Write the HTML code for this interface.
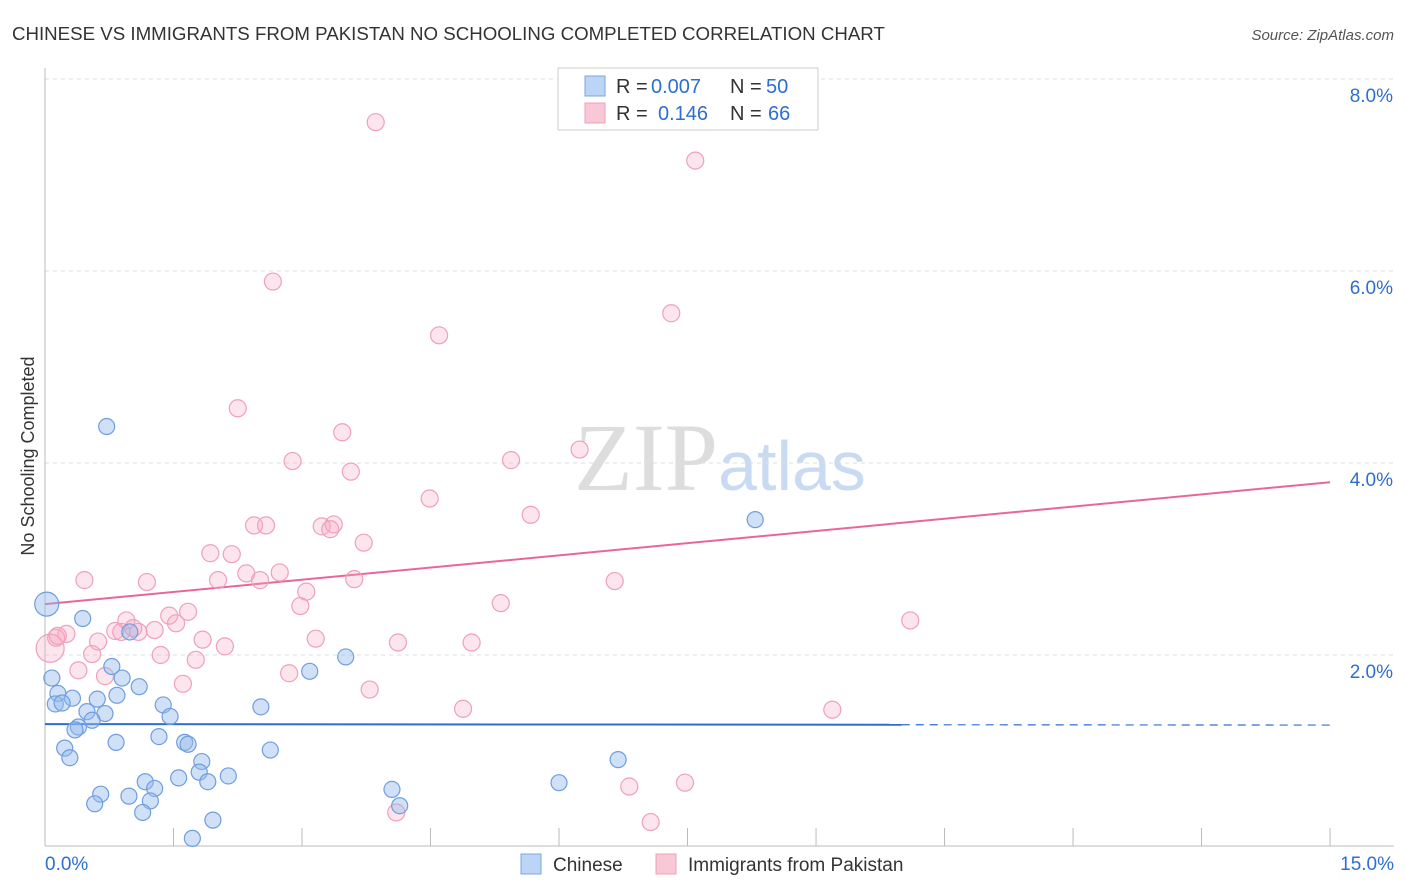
<!DOCTYPE html>
<html><head><meta charset="utf-8"><style>
body{margin:0;background:#fff;font-family:"Liberation Sans",sans-serif;}
</style></head><body>
<svg id="chart" width="1406" height="892" xmlns="http://www.w3.org/2000/svg" style="display:block">
<text x="12" y="40" font-size="18.7" fill="#333">CHINESE VS IMMIGRANTS FROM PAKISTAN NO SCHOOLING COMPLETED CORRELATION CHART</text>
<text x="1394" y="40" font-size="15" fill="#555" text-anchor="end" font-style="italic">Source: ZipAtlas.com</text>
<text x="720" y="490" font-size="96" text-anchor="middle" fill="#ddd" font-family="Liberation Serif">ZIP<tspan fill="#c9dbf2" font-family="Liberation Sans" font-size="70">atlas</tspan></text>
<text transform="translate(34,456) rotate(-90)" font-size="18" fill="#333" text-anchor="middle">No Schooling Completed</text>
<g id="grid"></g><g id="axes"></g><g id="lines"></g><g id="pts"></g>
<g>
<rect x="558" y="68" width="260" height="62" fill="#fff" stroke="#ccc"/>
<rect x="585" y="76" width="20" height="20" fill="#bcd4f5" stroke="#7aa6e0"/>
<rect x="585" y="103" width="20" height="20" fill="#f9c8d6" stroke="#f0a0ba"/>
<text x="616" y="93" font-size="20" fill="#333">R =</text>
<text x="651" y="93" font-size="20" fill="#2d6fd1">0.007</text>
<text x="730" y="93" font-size="20" fill="#333">N =</text>
<text x="766" y="93" font-size="20" fill="#2d6fd1">50</text>
<text x="616" y="120" font-size="20" fill="#333">R =</text>
<text x="658" y="120" font-size="20" fill="#2d6fd1">0.146</text>
<text x="730" y="120" font-size="20" fill="#333">N =</text>
<text x="768" y="120" font-size="20" fill="#2d6fd1">66</text>
</g>
<g>
<rect x="521" y="854" width="20" height="20" fill="#bcd4f5" stroke="#7aa6e0"/>
<text x="553" y="871" font-size="19" fill="#333">Chinese</text>
<rect x="656" y="854" width="20" height="20" fill="#f9c8d6" stroke="#f0a0ba"/>
<text x="688" y="871" font-size="19" fill="#333">Immigrants from Pakistan</text>
</g>
</svg>
<script>
const yTicks=[2,4,6,8];
const yTickLabels=["2.0%","4.0%","6.0%","8.0%"];
const xTickLabels=["0.0%","15.0%"];
const blueX=[.02,.72,8.29,.44,.99,.08,.15,.32,.12,.20,.78,.90,1.10,.61,.84,.49,.70,.55,.39,.35,1.38,1.46,.23,.29,.83,1.33,1.63,1.67,1.83,1.80,1.56,1.90,2.14,2.52,2.63,3.09,3.51,1.17,1.28,.65,.98,.58,1.23,1.14,1.96,1.72,4.05,4.14,6.00,6.69];
const blueY=[2.53,4.38,3.41,2.38,2.24,1.76,1.60,1.55,1.49,1.50,1.88,1.76,1.67,1.54,1.58,1.41,1.39,1.32,1.25,1.22,1.48,1.36,1.03,.93,1.09,1.15,1.09,1.07,.89,.78,.72,.68,.74,1.46,1.01,1.83,1.98,.68,.61,.55,.53,.45,.48,.36,.28,.09,.60,.43,.67,.91];
const pinkX=[3.86,7.59,2.66,7.31,4.60,2.25,3.47,6.24,2.89,5.44,3.57,4.49,5.67,2.44,2.58,3.23,3.37,3.33,3.72,1.93,2.18,.46,1.19,2.02,2.35,2.51,2.74,3.61,6.65,3.05,2.98,5.32,1.67,1.45,.95,1.53,10.10,.82,.89,1.28,1.09,1.03,.25,.13,.06,.62,1.84,2.10,3.16,4.12,4.98,.55,1.35,1.76,.39,.70,2.85,1.61,3.79,4.88,9.19,6.82,7.47,7.07,4.10,.15];
const pinkY=[7.55,7.15,5.89,5.56,5.33,4.57,4.32,4.14,4.02,4.03,3.91,3.63,3.46,3.35,3.35,3.34,3.36,3.31,3.17,3.06,3.05,2.78,2.76,2.78,2.85,2.78,2.86,2.79,2.77,2.66,2.51,2.54,2.45,2.41,2.36,2.33,2.36,2.25,2.24,2.26,2.24,2.28,2.22,2.18,2.07,2.14,2.16,2.09,2.17,2.13,2.13,2.01,2.00,1.95,1.84,1.78,1.81,1.70,1.64,1.44,1.43,.63,.67,.26,.36,2.20];
const blueTrend=[1.28,1.27];
const pinkTrend=[2.53,3.80];
const sx=v=>45+v*85.67, sy=v=>847-v*96;
const NS="http://www.w3.org/2000/svg";
function mk(p,t,a){const e=document.createElementNS(NS,t);for(const k in a)e.setAttribute(k,a[k]);document.getElementById(p).appendChild(e);return e;}
yTicks.forEach((t,i)=>{
 const g=mk('grid','line',{x1:45,x2:1394,y1:sy(t),y2:sy(t),stroke:'#ddd','stroke-dasharray':'4,4'});
 
 
 const l=mk('axes','text',{x:1393,y:sy(t)+23,'font-size':19,fill:'#2d6fd1','text-anchor':'end'});
 l.textContent=yTickLabels[i];
 
 
});
const topLine=mk('grid','line',{x1:45,x2:1394,y1:79,y2:79,stroke:'#ddd','stroke-dasharray':'4,4'});


const ya=mk('axes','line',{x1:45,x2:45,y1:68,y2:846,stroke:'#bbb'});


const xa=mk('axes','line',{x1:45,x2:1394,y1:846,y2:846,stroke:'#bbb'});


for(let i=0;i<=10;i++){const t=mk('axes','line',{x1:sx(i*1.5),x2:sx(i*1.5),y1:828,y2:846,stroke:'#bbb'});
 
 }
[[0,'start',45],[1,'end',1394]].forEach(([i,a,x])=>{const l=mk('axes','text',{x:x,y:870,'font-size':19,fill:'#2d6fd1','text-anchor':a});l.textContent=xTickLabels[i];
 
 });
const bl=mk('lines','line',{x1:sx(0),y1:sy(blueTrend[0]),x2:sx(10),y2:sy(blueTrend[0]+(blueTrend[1]-blueTrend[0])*10/15),stroke:'#2d6fd1','stroke-width':2});


const bd=mk('lines','line',{x1:sx(10),y1:sy(blueTrend[0]+(blueTrend[1]-blueTrend[0])*10/15),x2:sx(15),y2:sy(blueTrend[1]),stroke:'#2d6fd1','stroke-width':1.2,'stroke-dasharray':'8,6'});


const pl=mk('lines','line',{x1:sx(0),y1:sy(pinkTrend[0]),x2:sx(15),y2:sy(pinkTrend[1]),stroke:'#e8679a','stroke-width':2});


pinkX.forEach((x,i)=>{const c=mk('pts','circle',{cx:sx(x),cy:sy(pinkY[i]),r:(i==44?14:8.5),fill:'rgba(246,170,196,0.3)',stroke:'#f0a0ba','stroke-width':1.2});
 
 });
blueX.forEach((x,i)=>{const c=mk('pts','circle',{cx:sx(x),cy:sy(blueY[i]),r:(i==0?12:8),fill:'rgba(150,186,236,0.45)',stroke:'#6e9ee0','stroke-width':1.2});
 
 });
</script>
</body></html>
